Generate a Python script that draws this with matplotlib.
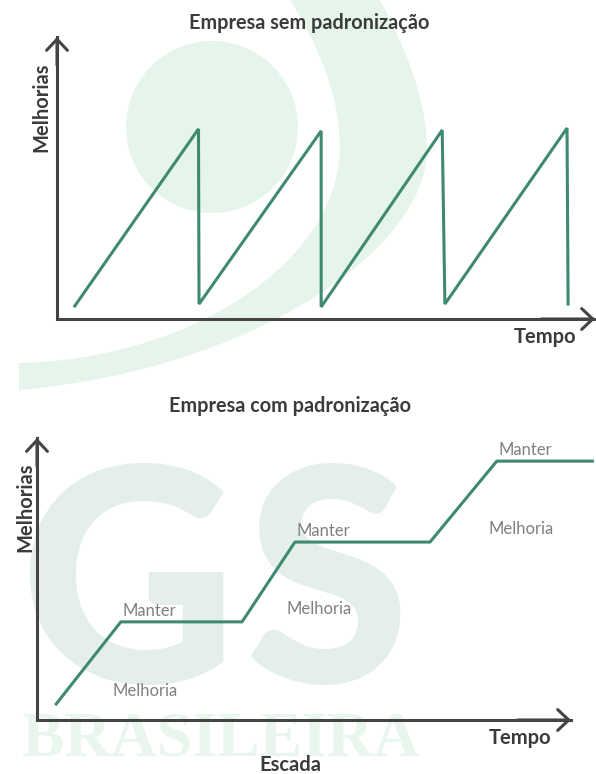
import matplotlib.pyplot as plt
from matplotlib.patches import Circle, PathPatch
from matplotlib.path import Path

W, H = 596, 774

# dados (eixos 0-100 em cada painel)
saw_t = [3.3, 26.3, 26.4, 49.1, 49.1, 71.6, 72.1, 94.8, 95.0]
saw_m = [4.6, 67.4, 5.3, 66.7, 4.3, 67.0, 5.3, 67.7, 5.3]

step_t = [3.6, 15.7, 38.4, 48.3, 73.6, 86.1, 104.0]
step_m = [5.7, 34.8, 34.8, 63.1, 63.1, 91.8, 91.8]
rise_idx = [0, 2, 4]      # inicio de cada "Melhoria"
keep_idx = [1, 3, 5]      # inicio de cada "Manter"

GREEN = "#3f8a6e"
DARK = "#444444"
TXT = "#3b3b3b"
LABEL = "#808080"
MINT = "#e5f5eb"
GS_C = "#e4efe9"

plt.rcParams["font.family"] = ["Lato", "DejaVu Sans"]

fig = plt.figure(figsize=(W / 100, H / 100), dpi=100)

# fundo em pixels: marca d'agua e textos
bg = fig.add_axes([0, 0, 1, 1], zorder=0)
bg.set_xlim(0, W)
bg.set_ylim(H, 0)
bg.axis("off")

bg.add_patch(Circle((212, 127), 86, color=MINT, lw=0))
verts = [(377, -5), (405, 45), (427, 100), (427, 150),
         (427, 250), (250, 370), (19, 390),
         (19, 363),
         (180, 360), (335, 270), (340, 150),
         (340, 90), (315, 40), (287, -5),
         (377, -5)]
codes = [Path.MOVETO] + [Path.CURVE4] * 6 + [Path.LINETO] + [Path.CURVE4] * 6 + [Path.CLOSEPOLY]
bg.add_patch(PathPatch(Path(verts, codes), color=MINT, lw=0))

bg.text(20, 683, "G", fontsize=216, fontweight="black", color=GS_C,
        ha="left", va="baseline")
bg.text(244, 683, "S", fontsize=216, fontweight="black", color=GS_C,
        ha="left", va="baseline")
bg.text(22, 755, "BRASILEIRA", fontsize=46, fontweight="bold", color="#e9f6ee",
        family="Liberation Serif", ha="left", va="baseline")

bg.text(309, 23, "Empresa sem padronização", fontsize=14.3, fontweight="bold",
        color=TXT, ha="center", va="center")
bg.text(290, 406, "Empresa com padronização", fontsize=14.3, fontweight="bold",
        color=TXT, ha="center", va="center")
bg.text(41, 107, "Melhorias", fontsize=14.5, fontweight="bold", color=TXT,
        rotation=90, ha="center", va="center")
bg.text(25, 507, "Melhorias", fontsize=14.5, fontweight="bold", color=TXT,
        rotation=90, ha="center", va="center")
bg.text(576, 337, "Tempo", fontsize=14.5, fontweight="bold", color=TXT,
        ha="right", va="center")
bg.text(551, 738, "Tempo", fontsize=14.5, fontweight="bold", color=TXT,
        ha="right", va="center")
bg.text(290, 765, "Escada", fontsize=14.5, fontweight="bold", color=TXT,
        ha="center", va="center")


def panel(x0, x1, y_top, y_bot):
    ax = fig.add_axes([x0 / W, 1 - y_bot / H, (x1 - x0) / W, (y_bot - y_top) / H], zorder=1)
    ax.patch.set_alpha(0)
    ax.set_xlim(0, 100)
    ax.set_ylim(0, 100)
    ax.axis("off")
    ax.plot([0, 0, 1], [1, 0, 0], transform=ax.transAxes, color=DARK, lw=2.2,
            solid_joinstyle="miter", clip_on=False)
    head = dict(arrowstyle="->,head_length=0.8,head_width=0.75", lw=2.2,
                color=DARK, shrinkA=0, shrinkB=0)
    ax.annotate("", xy=(0, 1), xytext=(0, 0.9), xycoords="axes fraction", arrowprops=head)
    ax.annotate("", xy=(1, 0), xytext=(0.9, 0), xycoords="axes fraction", arrowprops=head)
    return ax


# painel 1: dente de serra
ax1 = panel(57, 595, 37, 319)
ax1.plot(saw_t, saw_m, color=GREEN, lw=2.2, solid_joinstyle="miter", clip_on=False)

# painel 2: escada
ax2 = panel(37, 571, 438, 720)
ax2.plot(step_t, step_m, color=GREEN, lw=2.2, clip_on=False)
for i in keep_idx:
    ax2.text(step_t[i] + 5.4, step_m[i] + 4, "Manter", fontsize=12,
             color=LABEL, ha="center", va="center")
for i in rise_idx:
    # abaixo do fim da subida
    ax2.text(step_t[i + 1] + 4.5, step_m[i] + 4.5, "Melhoria", fontsize=12,
             color=LABEL, ha="center", va="center")

fig.savefig("out.png", dpi=100)
